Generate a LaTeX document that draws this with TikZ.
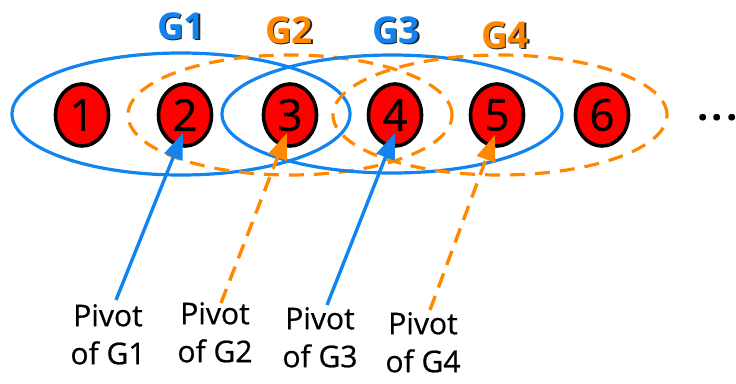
\documentclass[tikz,border=0pt]{standalone}
\usepackage{fontspec}
\setmainfont{Open Sans}
\newfontfamily\semibf[FakeBold=0.6]{Open Sans}
\usetikzlibrary{shapes.geometric,arrows.meta,calc}
\definecolor{gblue}{RGB}{18,132,240}
\definecolor{gorange}{RGB}{255,136,0}
\begin{document}
\begin{tikzpicture}[x=1pt,y=-1pt,
 grp/.style={ellipse, inner sep=0, line width=3.2pt},
 blueg/.style={grp, draw=gblue},
 orangeg/.style={grp, draw=gorange, dash pattern=on 15pt off 10pt},
 item/.style={ellipse, draw=black, line width=3.6pt, fill=red, minimum width=53pt, minimum height=62pt, inner sep=0, font=\semibf\fontsize{44}{44}\selectfont},
 glabel/.style={font=\fontsize{37}{37}\selectfont\bfseries, inner sep=0},
 pivlabel/.style={align=center, font=\semibf\fontsize{30}{38}\selectfont, inner sep=0, anchor=north},
 parrow/.style={line width=3.4pt, -{Triangle[length=26pt,width=19pt]}}
]
\useasboundingbox (0,0) rectangle (736,383);
% groups
\node[blueg, minimum width=338pt, minimum height=122pt] (g1) at (181,114) {};
\node[orangeg, minimum width=324pt, minimum height=120pt] (g2) at (290,115) {};
\node[blueg, minimum width=340pt, minimum height=118pt] (g3) at (392,114) {};
\node[orangeg, minimum width=334pt, minimum height=120pt] (g4) at (500,115) {};
% group labels
\node[glabel, text=black!85] (g1s) at (182.5,27.5) {G1};
\node[glabel, text=gblue] (g1l) at (181,26) {G1};
\node[glabel, text=black!85] (g2s) at (290.5,31.5) {G2};
\node[glabel, text=gorange] (g2l) at (289,30) {G2};
\node[glabel, text=black!85] (g3s) at (397.5,31.5) {G3};
\node[glabel, text=gblue] (g3l) at (396,30) {G3};
\node[glabel, text=black!85] (g4s) at (506.5,36.5) {G4};
\node[glabel, text=gorange] (g4l) at (505,35) {G4};
% items
\node[item] (n1) at (82,115) {1};
\node[item] (n2) at (185,115) {2};
\node[item] (n3) at (290,115) {3};
\node[item] (n4) at (395,115) {4};
\node[item] (n5) at (497,115) {5};
\node[item] (n6) at (602,115) {6};
\node[anchor=base west, inner sep=0, font=\fontsize{40}{40}\selectfont\bfseries] (dots) at (697,120) {.\kern3pt.\kern3pt.};
% pivot labels
\node[pivlabel] (p1) at (108,304) {Pivot\\of G1};
\node[pivlabel] (p2) at (215,302) {Pivot\\of G2};
\node[pivlabel] (p3) at (320,307) {Pivot\\of G3};
\node[pivlabel] (p4) at (423,312) {Pivot\\of G4};
\coordinate (s1) at (116,300);
\coordinate (s2) at (221,303);
\coordinate (s3) at (327,305);
\coordinate (s4) at (430,310);
\draw[parrow, gblue] (s1) -- ($(n2.center)+(-2,18)$);
\draw[parrow, gorange, dash pattern=on 15pt off 9pt] (s2) -- ($(n3.center)+(-3,18)$);
\draw[parrow, gblue] (s3) -- ($(n4.center)+(0,18)$);
\draw[parrow, gorange, dash pattern=on 15pt off 9pt] (s4) -- ($(n5.center)+(-2,20)$);
\end{tikzpicture}
\end{document}
